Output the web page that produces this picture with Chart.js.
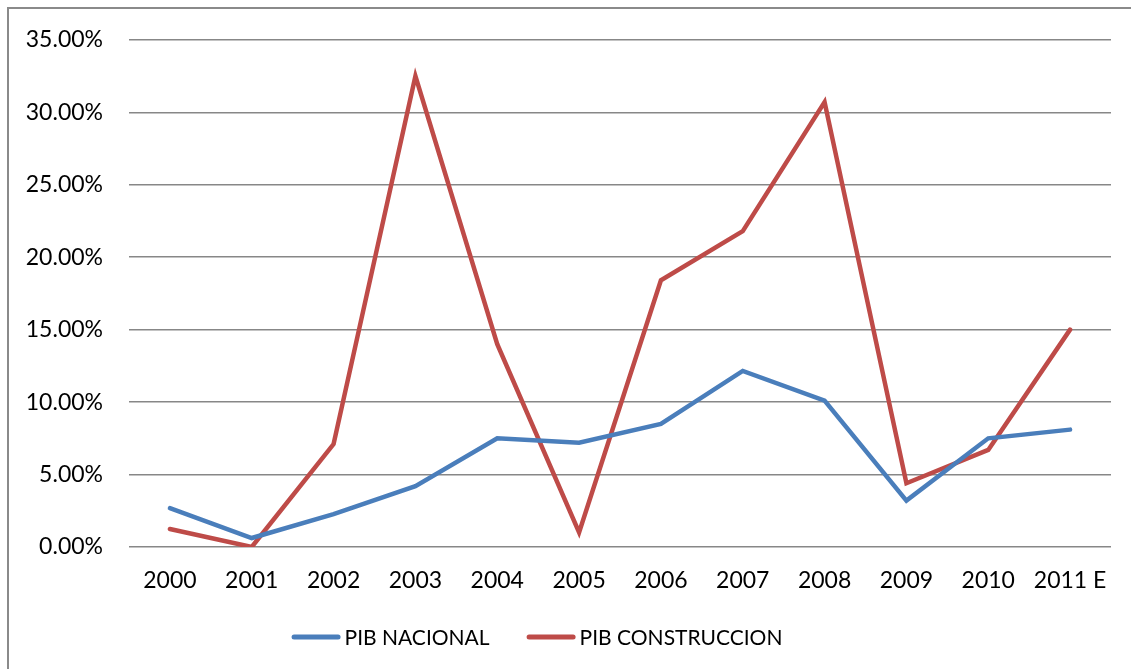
<!DOCTYPE html>
<html>
<head>
<meta charset="utf-8">
<script src="https://cdn.jsdelivr.net/npm/chart.js@4.4.1/dist/chart.umd.min.js"></script>
<style>
  html, body { margin: 0; padding: 0; background: #fff; overflow: hidden; }
  #frame { position: absolute; left: 7px; top: 7px; width: 1200px; height: 800px; border-left: 2px solid #8a8a8a; border-top: 2px solid #8a8a8a; box-sizing: border-box; pointer-events: none; }
  #wrap { position: absolute; left: 0; top: 0; width: 1131px; height: 669px; }
</style>
</head>
<body>
<div id="wrap"><canvas id="c" width="1131" height="669"></canvas></div>
<div id="frame"></div>
<script>
const categories = ['2000','2001','2002','2003','2004','2005','2006','2007','2008','2009','2010','2011 E'];
const pibNacional = [2.68, 0.62, 2.27, 4.2, 7.5, 7.2, 8.5, 12.15, 10.1, 3.2, 7.5, 8.1];
const pibConstruccion = [1.24, 0.0, 7.1, 32.5, 14.0, 1.0, 18.4, 21.8, 30.7, 4.4, 6.7, 15.0];
const yTicks = [0, 5, 10, 15, 20, 25, 30, 35];

const FONT = 'Lato, "Open Sans", sans-serif';

const customLegend = {
  id: 'customLegend',
  afterDraw(chart) {
    const ctx = chart.ctx;
    const items = chart.data.datasets.map(d => ({ text: d.label, color: d.borderColor }));
    const lineW = 49, gapText = 4, gapItem = 37, cy = 637;
    ctx.save();
    ctx.font = '21px ' + FONT;
    const widths = items.map(it => ctx.measureText(it.text).width);
    let total = 0;
    items.forEach((it, i) => { total += lineW + gapText + widths[i]; });
    total += gapItem * (items.length - 1);
    let x = 537 - total / 2;
    ctx.textBaseline = 'middle';
    ctx.textAlign = 'left';
    items.forEach((it, i) => {
      ctx.strokeStyle = it.color;
      ctx.lineWidth = 5;
      ctx.lineCap = 'round';
      ctx.beginPath();
      ctx.moveTo(x + 2.5, cy);
      ctx.lineTo(x + lineW - 2.5, cy);
      ctx.stroke();
      ctx.fillStyle = '#000';
      ctx.fillText(it.text, x + lineW + gapText, cy + 1);
      x += lineW + gapText + widths[i] + gapItem;
    });
    ctx.restore();
  }
};

new Chart(document.getElementById('c'), {
  type: 'line',
  data: {
    labels: categories,
    datasets: [
      { label: 'PIB NACIONAL', data: pibNacional, borderColor: '#4A7EBB', backgroundColor: '#4A7EBB', borderWidth: 4.5, pointRadius: 0, tension: 0, borderCapStyle: 'round', borderJoinStyle: 'miter' },
      { label: 'PIB CONSTRUCCION', data: pibConstruccion, borderColor: '#BE4B48', backgroundColor: '#BE4B48', borderWidth: 4.5, pointRadius: 0, tension: 0, borderCapStyle: 'round', borderJoinStyle: 'miter' }
    ]
  },
  options: {
    responsive: false,
    animation: false,
    layout: { padding: { left: 0, top: 38, right: 20, bottom: 62 } },
    plugins: {
      tooltip: { enabled: false },
      legend: { display: false }
    },
    scales: {
      x: {
        offset: true,
        grid: { display: false, drawTicks: false },
        border: { display: false },
        ticks: { color: '#000', font: { family: FONT, size: 23 }, padding: 20, maxRotation: 0, autoSkip: false },
        afterFit: (s) => { s.height = 60; }
      },
      y: {
        min: 0, max: 35,
        afterBuildTicks: (s) => { s.ticks = yTicks.map(v => ({ value: v })); },
        grid: { color: '#878787', lineWidth: 1.5, drawTicks: false },
        border: { display: false },
        ticks: { color: '#000', font: { family: FONT, size: 23 }, padding: 26, callback: (v) => v.toFixed(2) + '%' },
        afterFit: (s) => { s.width = 129; }
      }
    }
  },
  plugins: [customLegend]
});
</script>
</body>
</html>
